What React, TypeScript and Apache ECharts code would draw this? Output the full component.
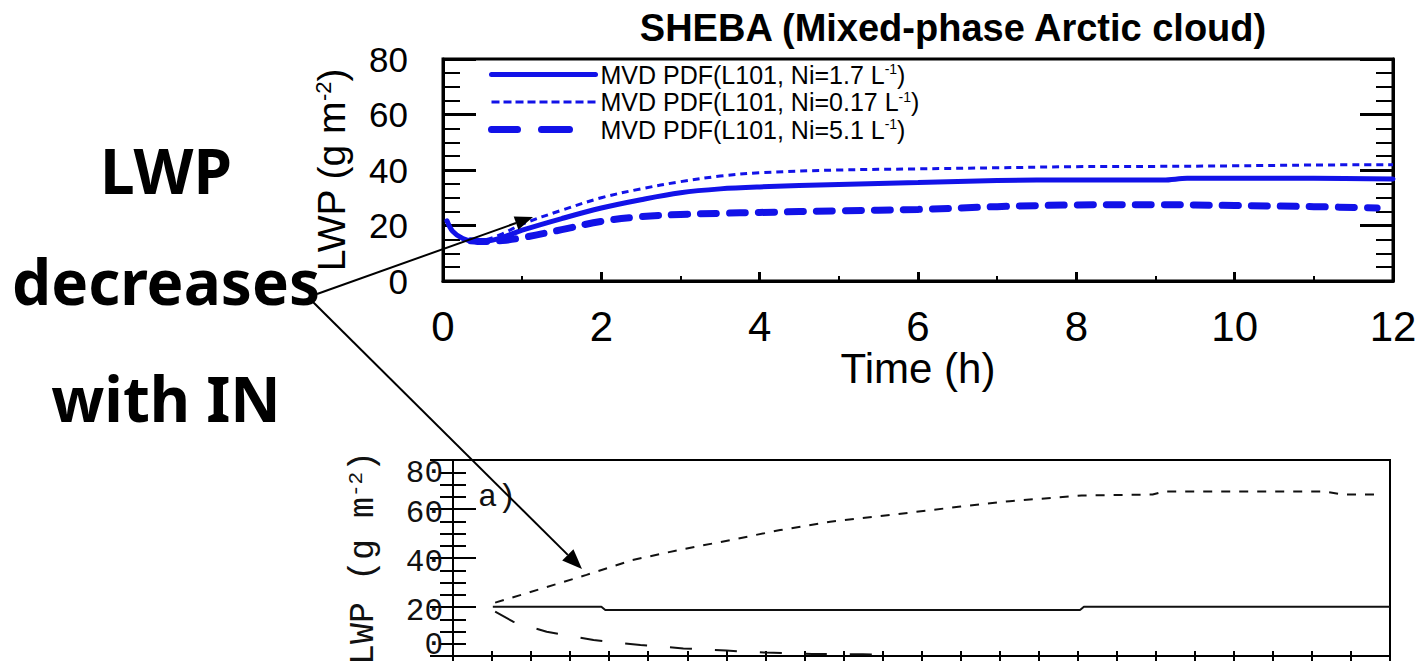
import React, { useEffect, useRef } from "react";
import * as echarts from "echarts";

// ---- SHEBA panel: LWP (g m^-2) against time (h) for three ice number concentrations ----
const sheba17Time = [0.05, 0.12, 0.25, 0.4, 0.55, 0.75, 1.0, 1.5, 2.0, 2.5, 3.0, 3.5, 4.0, 5.0, 6.0, 7.0, 8.0, 9.1, 9.4, 10.0, 11.0, 12.0];
const sheba17Lwp = [21.7, 18.0, 15.3, 14.3, 14.4, 15.7, 18.3, 22.5, 26.3, 29.3, 31.8, 33.2, 33.9, 34.8, 35.5, 36.2, 36.4, 36.4, 37.0, 37.0, 37.0, 36.8];

const sheba017Time = [0.05, 0.12, 0.25, 0.4, 0.55, 0.75, 1.0, 1.5, 2.0, 2.5, 3.0, 3.5, 4.0, 5.0, 6.0, 7.0, 8.0, 9.0, 10.0, 11.0, 12.0];
const sheba017Lwp = [21.7, 18.0, 15.3, 14.5, 15.0, 17.0, 20.5, 25.5, 30.0, 33.2, 35.8, 37.8, 39.0, 40.0, 40.4, 40.8, 41.2, 41.3, 41.5, 41.8, 41.9];

const sheba51Time = [0.35, 0.5, 0.75, 1.0, 1.5, 2.0, 2.5, 3.0, 3.5, 4.0, 5.0, 6.0, 7.0, 8.0, 9.0, 10.0, 11.0, 11.8];
const sheba51Lwp = [14.5, 14.2, 14.6, 15.6, 18.5, 21.5, 23.2, 24.0, 24.4, 24.7, 25.3, 25.8, 26.8, 27.4, 27.5, 27.2, 26.8, 26.3];

const legendNames = [
  "MVD PDF(L101, Ni=1.7 L-1)",
  "MVD PDF(L101, Ni=0.17 L-1)",
  "MVD PDF(L101, Ni=5.1 L-1)",
];

// ---- lower panel a): LWP against time for the three runs ----
const panelADottedTime = [0.54, 0.94, 1.33, 1.71, 2.3, 2.9, 3.55, 4.19, 4.83, 5.47, 5.9, 6.5, 7.13, 8.05, 8.96, 9.1, 11.17, 11.4, 11.8];
const panelADottedLwp = [21.8, 25.6, 29.4, 33.1, 39.2, 43.3, 47.3, 51.4, 54.8, 57.1, 58.7, 61.0, 63.2, 65.5, 65.9, 67.1, 67.1, 65.9, 65.9];

const panelASolidTime = [0.51, 1.9, 1.95, 8.03, 8.08, 12.0];
const panelASolidLwp = [20.1, 20.1, 18.8, 18.8, 20.1, 20.1];

const panelADashedTime = [0.54, 0.77, 1.2, 1.8, 2.4, 2.95, 3.5, 4.0, 4.6, 5.25, 5.5];
const panelADashedLwp = [18.1, 14.0, 9.9, 6.5, 4.5, 3.1, 2.2, 1.4, 0.8, 0.7, 0.5];

// ---- axis ticks ----
const timeTicks = [0, 2, 4, 6, 8, 10, 12];
const lwpTicks = [0, 20, 40, 60, 80];
const panelATimeStep = 0.5;

const FONT = "'Liberation Sans', Arial, Helvetica, sans-serif";
const MONO = "'Liberation Mono', 'DejaVu Sans Mono', monospace";
const HAND = "'Comic Sans MS', 'Noto Sans', 'DejaVu Sans', sans-serif";
const BLUE = "#1212e8";

const pairs = (xs: number[], ys: number[]) => xs.map((x, i) => [x, ys[i]]);

// straight arrow: shaft plus a filled triangular head
function arrow(x1: number, y1: number, x2: number, y2: number, head: number, half: number) {
  const len = Math.hypot(x2 - x1, y2 - y1);
  const ux = (x2 - x1) / len;
  const uy = (y2 - y1) / len;
  const bx = x2 - ux * head;
  const by = y2 - uy * head;
  const nx = -uy;
  const ny = ux;
  return [
    {
      type: "line",
      z: 100,
      shape: { x1, y1, x2: bx, y2: by },
      style: { stroke: "#000", lineWidth: 2 },
    },
    {
      type: "polygon",
      z: 100,
      shape: {
        points: [
          [x2, y2],
          [bx + nx * half, by + ny * half],
          [bx - nx * half, by - ny * half],
        ],
      },
      style: { fill: "#000" },
    },
  ];
}

const lwpName = "LWP (g m{sup|-2})";

function buildOption(): any {
  const tMin = timeTicks[0];
  const tMax = timeTicks[timeTicks.length - 1];
  const tStep = timeTicks[1] - timeTicks[0];
  const yMin = lwpTicks[0];
  const yMax = lwpTicks[lwpTicks.length - 1];
  const yStep = lwpTicks[1] - lwpTicks[0];

  const topYAxis = (position: "left" | "right", withLabels: boolean) => ({
    gridIndex: 0,
    type: "value",
    position,
    min: yMin,
    max: yMax,
    interval: yStep,
    axisLine: { show: true, lineStyle: { color: "#000", width: 3 } },
    axisTick: { show: true, inside: true, length: 33, lineStyle: { color: "#000", width: 3 } },
    minorTick: { show: true, splitNumber: 4, length: 17, lineStyle: { color: "#000", width: 2 } },
    splitLine: { show: false },
    axisLabel: {
      show: withLabels,
      fontFamily: FONT,
      fontSize: 35,
      color: "#000",
      margin: 35,
    },
    ...(withLabels
      ? {
          name: lwpName,
          nameLocation: "middle",
          nameRotate: 90,
          nameGap: 92,
          nameTextStyle: {
            fontFamily: FONT,
            fontSize: 39,
            color: "#000",
            rich: { sup: { fontFamily: FONT, fontSize: 22, lineHeight: 22, verticalAlign: "top", color: "#000" } },
          },
        }
      : {}),
  });

  // pixel-style labels of panel a) sit a little inside the frame at both ends
  const lowLabel = (v: number) => {
    if (v === yMax) return `{top|${v}}`;
    if (v === yMin) return `{bot|${v}}`;
    return `{mid|${v}}`;
  };

  const lowYAxis = (position: "left" | "right", withLabels: boolean) => ({
    gridIndex: 1,
    type: "value",
    position,
    min: yMin,
    max: yMax,
    interval: yStep,
    axisLine: { show: true, lineStyle: { color: "#000", width: 2 } },
    axisTick: { show: true, inside: true, length: 23, lineStyle: { color: "#000", width: 2 } },
    minorTick: { show: true, splitNumber: 4, length: 13, lineStyle: { color: "#000", width: 2 } },
    splitLine: { show: false },
    axisLabel: {
      show: withLabels,
      fontFamily: MONO,
      fontSize: 31,
      color: "#111",
      margin: 10,
      formatter: lowLabel,
      rich: {
        top: { fontFamily: MONO, fontSize: 31, color: "#111", padding: [26, 0, 0, 0] },
        mid: { fontFamily: MONO, fontSize: 31, color: "#111", padding: [8, 0, 0, 0] },
        bot: { fontFamily: MONO, fontSize: 31, color: "#111", padding: [0, 0, 22, 0] },
      },
    },
    ...(withLabels
      ? {
          name: lwpName,
          nameLocation: "middle",
          nameRotate: 90,
          nameGap: 72,
          nameTextStyle: {
            fontFamily: MONO,
            fontSize: 35,
            color: "#111",
            rich: { sup: { fontFamily: MONO, fontSize: 21, lineHeight: 21, verticalAlign: "top", color: "#111" } },
          },
        }
      : {}),
  });

  const lowXAxis = (position: "top" | "bottom") => ({
    gridIndex: 1,
    type: "value",
    position,
    min: tMin,
    max: tMax,
    interval: panelATimeStep,
    axisLine: { show: true, lineStyle: { color: "#000", width: 2 } },
    axisTick: { show: true, inside: true, length: 5, lineStyle: { color: "#000", width: 2 } },
    axisLabel: { show: false },
    splitLine: { show: false },
  });

  return {
    animation: false,
    backgroundColor: "#ffffff",
    title: {
      text: "SHEBA (Mixed-phase Arctic cloud)",
      left: 953,
      top: 9,
      textAlign: "center",
      padding: 0,
      textStyle: { fontFamily: FONT, fontSize: 38, fontWeight: "bold", color: "#000" },
    },
    legend: {
      orient: "vertical",
      left: 488,
      top: 62,
      padding: 0,
      itemWidth: 104,
      itemHeight: 14,
      itemGap: 2.5,
      itemStyle: { opacity: 0 },
      data: [
        { name: legendNames[0], lineStyle: { width: 5, cap: "round" } },
        { name: legendNames[1], lineStyle: { width: 3, type: [8, 4] } },
        { name: legendNames[2], lineStyle: { width: 7, type: [26, 24, 28, 60], cap: "round" } },
      ],
      formatter: (n: string) => n.replace("L-1)", "L{sup|-1})"),
      textStyle: {
        fontFamily: FONT,
        fontSize: 25,
        lineHeight: 25,
        color: "#000",
        rich: { sup: { fontFamily: FONT, fontSize: 14, lineHeight: 14, verticalAlign: "top", color: "#000" } },
      },
    },
    grid: [
      { left: 443, top: 59, width: 950, height: 222, show: true, borderColor: "#000", borderWidth: 3 },
      { left: 453, top: 460, width: 937, height: 196, show: true, borderColor: "#000", borderWidth: 2 },
    ],
    xAxis: [
      {
        gridIndex: 0,
        type: "value",
        min: tMin,
        max: tMax,
        interval: tStep,
        axisLine: { show: true, lineStyle: { color: "#000", width: 3 } },
        axisTick: { show: true, inside: true, length: 9, lineStyle: { color: "#000", width: 3 } },
        minorTick: { show: true, splitNumber: 2, length: 5, lineStyle: { color: "#000", width: 2 } },
        splitLine: { show: false },
        axisLabel: { fontFamily: FONT, fontSize: 42, color: "#000", margin: 24 },
        name: "Time (h)",
        nameLocation: "middle",
        nameGap: 64,
        nameTextStyle: { fontFamily: FONT, fontSize: 42, color: "#000", verticalAlign: "top" },
      },
      lowXAxis("bottom"),
      lowXAxis("top"),
    ],
    yAxis: [topYAxis("left", true), topYAxis("right", false), lowYAxis("left", true), lowYAxis("right", false)],
    series: [
      {
        name: legendNames[0],
        type: "line",
        xAxisIndex: 0,
        yAxisIndex: 0,
        data: pairs(sheba17Time, sheba17Lwp),
        symbol: "none",
        smooth: 0.35,
        z: 4,
        lineStyle: { color: BLUE, width: 5, cap: "round" },
        itemStyle: { color: BLUE },
      },
      {
        name: legendNames[1],
        type: "line",
        xAxisIndex: 0,
        yAxisIndex: 0,
        data: pairs(sheba017Time, sheba017Lwp),
        symbol: "none",
        smooth: 0.35,
        z: 3,
        lineStyle: { color: BLUE, width: 3, type: [7, 5] },
        itemStyle: { color: BLUE },
      },
      {
        name: legendNames[2],
        type: "line",
        xAxisIndex: 0,
        yAxisIndex: 0,
        data: pairs(sheba51Time, sheba51Lwp),
        symbol: "none",
        smooth: 0.35,
        z: 3,
        lineStyle: { color: BLUE, width: 7, type: [16, 13], cap: "round" },
        itemStyle: { color: BLUE },
      },
      {
        name: "panel a) dotted",
        type: "line",
        xAxisIndex: 1,
        yAxisIndex: 2,
        data: pairs(panelADottedTime, panelADottedLwp),
        symbol: "none",
        lineStyle: { color: "#111", width: 2, type: [9, 9] },
      },
      {
        name: "panel a) solid",
        type: "line",
        xAxisIndex: 1,
        yAxisIndex: 2,
        data: pairs(panelASolidTime, panelASolidLwp),
        symbol: "none",
        lineStyle: { color: "#111", width: 2 },
      },
      {
        name: "panel a) dashed",
        type: "line",
        xAxisIndex: 1,
        yAxisIndex: 2,
        data: pairs(panelADashedTime, panelADashedLwp),
        symbol: "none",
        lineStyle: { color: "#111", width: 2, type: [22, 23] },
      },
    ],
    graphic: [
      {
        type: "text",
        z: 100,
        style: { text: "LWP", x: 166, y: 170, align: "center", verticalAlign: "middle", font: `bold 62px ${HAND}`, fill: "#000" },
      },
      {
        type: "text",
        z: 100,
        style: { text: "decreases", x: 166, y: 281, align: "center", verticalAlign: "middle", font: `bold 62px ${HAND}`, fill: "#000" },
      },
      {
        type: "text",
        z: 100,
        style: { text: "with IN", x: 166, y: 398, align: "center", verticalAlign: "middle", font: `bold 62px ${HAND}`, fill: "#000" },
      },
      {
        type: "text",
        z: 100,
        style: { text: "a)", x: 478, y: 497, align: "left", verticalAlign: "middle", font: `32px ${MONO}`, fill: "#111" },
      },
      ...arrow(317, 294, 533, 217, 18, 7),
      ...arrow(313, 302, 582, 569, 20, 8),
    ],
  };
}

export default function App() {
  const ref = useRef<HTMLDivElement>(null);

  useEffect(() => {
    if (!ref.current) return;
    const chart = echarts.init(ref.current, undefined, { renderer: "svg" });
    chart.setOption(buildOption());
    return () => chart.dispose();
  }, []);

  return (
    <div
      ref={ref}
      style={{ position: "fixed", left: 0, top: 0, width: 1421, height: 672, background: "#fff" }}
    />
  );
}
